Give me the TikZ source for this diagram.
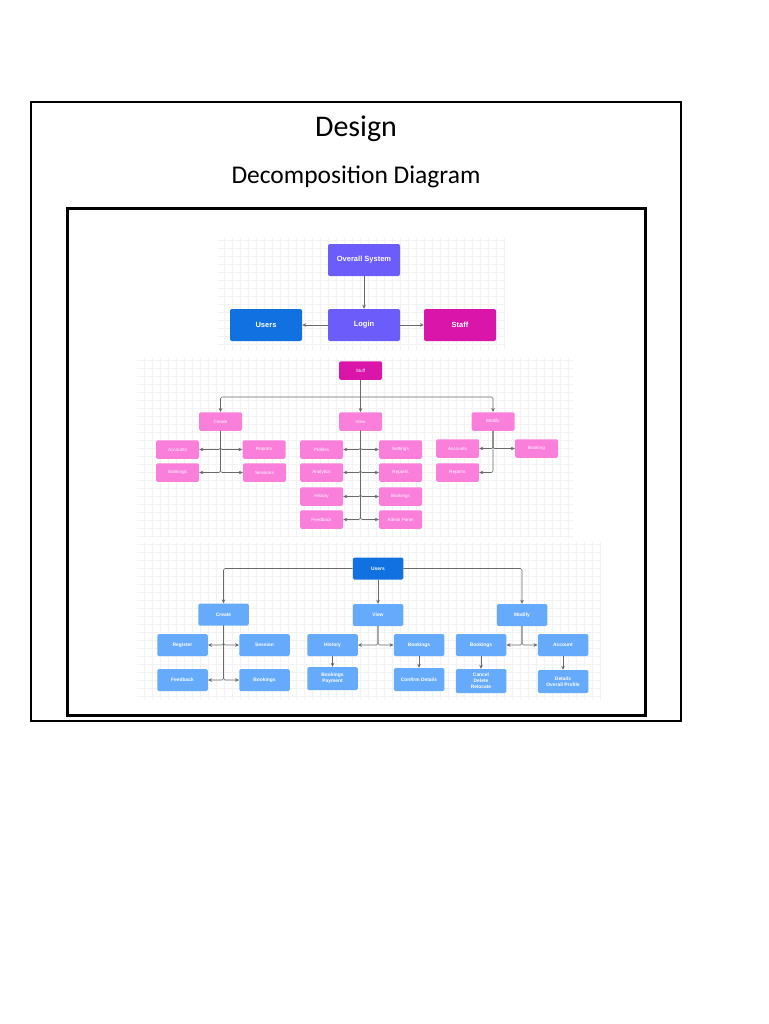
\documentclass[tikz,border=0pt]{standalone}
\usepackage{fontspec}
\setmainfont{Carlito}
\newfontfamily\boxfont{Liberation Sans}
\usepackage{tikz}
\usetikzlibrary{arrows.meta, backgrounds}
\definecolor{sysviolet}{HTML}{6C5CFA}
\definecolor{userblue}{HTML}{1271E0}
\definecolor{staffmagenta}{HTML}{D915AA}
\definecolor{staffpink}{HTML}{F97FDB}
\definecolor{userlight}{HTML}{66AAFB}
\definecolor{linkgray}{HTML}{6A6A6A}
\definecolor{gridgray}{HTML}{F2F2F2}

\begin{document}
\begin{tikzpicture}[x=1pt, y=-1pt,
  topbox/.style={
    rectangle, rounded corners=2pt, inner sep=0pt,
    minimum width=72pt, minimum height=32pt, text=white,
    font=\boxfont\bfseries\fontsize{7.5}{9}\selectfont
  },
  staffbox/.style={
    rectangle, rounded corners=1.5pt, inner sep=0pt, fill=staffpink,
    minimum width=43pt, minimum height=18.5pt, text=white,
    font=\boxfont\fontsize{4.6}{5.5}\selectfont
  },
  userbox/.style={
    rectangle, rounded corners=1.5pt, inner sep=0pt, fill=userlight,
    minimum width=50.5pt, minimum height=22pt, text=white, align=center,
    font=\boxfont\bfseries\fontsize{4.9}{5.9}\selectfont
  },
  link/.style={
    draw=linkgray, line width=0.6pt, rounded corners=1.5pt,
    -{Stealth[length=4pt, width=3.6pt]}
  },
  gridlines/.style={draw=gridgray, line width=0.25pt},
]
  \useasboundingbox (0,0) rectangle (768,1024);

  % Frames and titles
  \draw[line width=1.3pt] (31,102) rectangle (681,721);
  \draw[line width=3pt] (67,209) rectangle (645,715);
  \node[font=\fontsize{30}{34}\selectfont] (title) at (356,129) {Design};
  \node[font=\fontsize{25.5}{30}\selectfont] (subtitle) at (356,177) {Decomposition Diagram};

  % Level 0
  \node[topbox, fill=sysviolet] (overall) at (364,260) {Overall System};
  \node[topbox, fill=sysviolet] (login)   at (364,325) {Login};
  \node[topbox, fill=userblue]  (users)   at (266,325) {Users};
  \node[topbox, fill=staffmagenta] (staff) at (460,325) {Staff};

  \draw[link] (overall) -- (login);
  \draw[link] (login) -- (users);
  \draw[link] (login) -- (staff);

  % Staff tree
  \node[staffbox, fill=staffmagenta] (sStaff) at (360.5,370.5) {Stuff};
  \node[staffbox] (sCreate) at (220.5,421.5) {Create};
  \node[staffbox] (sView)   at (360.5,421.5) {View};
  \node[staffbox] (sModify) at (493,421.5)   {Modify};
  \coordinate (sHub) at (360.5,397);

  \node[staffbox] (scAccounts) at (177.5,449.5) {Accounts};
  \node[staffbox] (scReports)  at (264,449.5)   {Reports};
  \node[staffbox] (scBookings) at (177.5,472.5) {Bookings};
  \node[staffbox] (scSessions) at (264.5,472.5) {Sessions};

  \node[staffbox] (svProfiles)  at (321.5,449.5) {Profiles};
  \node[staffbox] (svSettings)  at (400.5,449.5) {Settings};
  \node[staffbox] (svAnalytics) at (321.5,472.5) {Analytics};
  \node[staffbox] (svReports)   at (400.5,472.5) {Reports};
  \node[staffbox] (svHistory)   at (321.5,496.5) {History};
  \node[staffbox] (svBookings)  at (400.5,496.5) {Bookings};
  \node[staffbox] (svFeedback)  at (321.5,519.5) {Feedback};
  \node[staffbox] (svAdmin)     at (400.5,519.5) {Admin Panel};

  \node[staffbox] (smAccounts) at (457.5,448.5) {Accounts};
  \node[staffbox] (smBooking)  at (536.5,448.5) {Booking};
  \node[staffbox] (smReports)  at (457.5,472.5) {Reports};

  \draw[link, -] (sStaff) -- (sHub);
  \draw[link] (sHub) -| (sCreate.north);
  \draw[link] (sHub) -- (sView);
  \draw[link] (sHub) -| (sModify.north);

  \foreach \child in {scAccounts, scBookings}
    \draw[link] (sCreate.south) |- (\child.east);
  \foreach \child in {scReports, scSessions}
    \draw[link] (sCreate.south) |- (\child.west);
  \foreach \child in {svProfiles, svAnalytics, svHistory, svFeedback}
    \draw[link] (sView.south) |- (\child.east);
  \foreach \child in {svSettings, svReports, svBookings, svAdmin}
    \draw[link] (sView.south) |- (\child.west);
  \foreach \child in {smAccounts, smReports}
    \draw[link] (sModify.south) |- (\child.east);
  \draw[link] (sModify.south) |- (smBooking.west);

  % Users tree
  \node[userbox, fill=userblue] (uUsers) at (378,568.5) {Users};
  \node[userbox] (uCreate) at (223.5,614.5) {Create};
  \node[userbox] (uView)   at (378,615)     {View};
  \node[userbox] (uModify) at (522,615)     {Modify};

  \node[userbox] (ucRegister) at (182.5,645) {Register};
  \node[userbox] (ucSession)  at (264.5,645) {Session};
  \node[userbox] (ucFeedback) at (182.5,680) {Feedback};
  \node[userbox] (ucBookings) at (264.5,680) {Bookings};

  \node[userbox] (uvHistory)  at (332.5,645) {History};
  \node[userbox] (uvBookings) at (419,645)   {Bookings};
  \node[userbox, minimum height=23pt] (uvPayment) at (332.5,678.5) {Bookings\\Payment};
  \node[userbox, minimum height=23pt] (uvConfirm) at (419,679.5)   {Confirm Details};

  \node[userbox] (umBookings) at (481,645) {Bookings};
  \node[userbox] (umAccount)  at (563,645) {Account};
  \node[userbox, minimum height=24pt] (umCancel)  at (481,681)   {Cancel\\Delete\\Relocate};
  \node[userbox, minimum height=23pt] (umDetails) at (563,681.5) {Details\\Overall Profile};

  \draw[link] (uUsers.west) -| (uCreate.north);
  \draw[link] (uUsers) -- (uView);
  \draw[link] (uUsers.east) -| (uModify.north);

  \foreach \child in {ucRegister, ucFeedback}
    \draw[link] (uCreate.south) |- (\child.east);
  \foreach \child in {ucSession, ucBookings}
    \draw[link] (uCreate.south) |- (\child.west);
  \draw[link] (uView.south) |- (uvHistory.east);
  \draw[link] (uView.south) |- (uvBookings.west);
  \draw[link] (uModify.south) |- (umBookings.east);
  \draw[link] (uModify.south) |- (umAccount.west);
  \draw[link] (uvHistory) -- (uvPayment);
  \draw[link] (uvBookings) -- (uvConfirm);
  \draw[link] (umBookings) -- (umCancel);
  \draw[link] (umAccount) -- (umDetails);

  % Canvas grids
  \begin{scope}[on background layer]
    \draw[gridlines, step=8pt] (218,238) grid (505,350);
    \draw[gridlines, step=8pt] (137,358) grid (573,538);
    \draw[gridlines, step=8pt] (137,542) grid (600,700);
  \end{scope}
\end{tikzpicture}
\end{document}
